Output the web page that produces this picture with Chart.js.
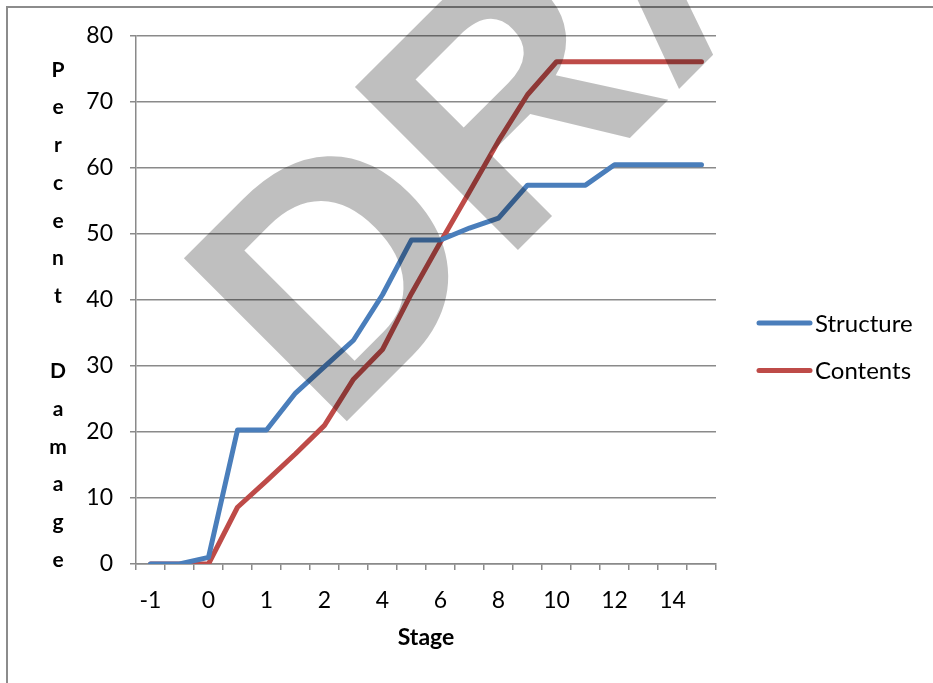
<!DOCTYPE html>
<html><head><meta charset="utf-8">
<script src="https://cdn.jsdelivr.net/npm/chart.js@4.4.1/dist/chart.umd.min.js"></script>
<style>
html,body{margin:0;padding:0;background:#fff;}
#wrap{position:relative;width:933px;height:683px;overflow:hidden;background:#fff;}
#frame{position:absolute;left:6px;top:6px;width:1000px;height:1000px;border:2px solid #8c8c8c;box-sizing:border-box;}
canvas{position:absolute;left:0;top:0;}
</style></head>
<body><div id="wrap"><div id="frame"></div><canvas id="c" width="933" height="683"></canvas></div>
<script>
const stages = ['-1','-0.5','0','0.5','1','1.5','2','3','4','5','6','7','8','9','10','11','12','13','14','15'];
const structure = [0, 0, 1, 20.3, 20.3, 25.9, 29.9, 33.9, 40.8, 49.1, 49.1, 50.9, 52.4, 57.4, 57.4, 57.4, 60.5, 60.5, 60.5, 60.5];
const contents  = [0, 0, 0, 8.6, 12.6, 16.7, 21.0, 28.0, 32.5, 41.0, 48.8, 56.4, 64.1, 71.1, 76.1, 76.1, 76.1, 76.1, 76.1, 76.1];
const yTicks = [0, 10, 20, 30, 40, 50, 60, 70, 80];
const seriesNames = ['Structure', 'Contents'];
const seriesColors = ['#4a7ebb', '#be4b48'];
const xTitle = 'Stage';
const yTitle = 'Percent Damage';
const watermarkText = 'DRAFT';

const GRID = '#8a8a8a';
const FONT = 'Lato, "Open Sans", sans-serif';

const watermark = {
  id: 'watermark',
  afterDatasetsDraw(chart) {
    const ctx = chart.ctx;
    ctx.save();
    ctx.translate(331, 437);
    ctx.rotate(-Math.PI / 4);
    ctx.font = 'bold 335px "Liberation Sans", Arial, sans-serif';
    ctx.fillStyle = 'rgba(0,0,0,0.25)';
    ctx.textBaseline = 'alphabetic';
    ctx.textAlign = 'left';
    ctx.fillText(watermarkText, 0, 0);
    ctx.restore();
  }
};

const sideTitleAndLegend = {
  id: 'sideTitleAndLegend',
  afterDraw(chart) {
    const ctx = chart.ctx;
    ctx.save();
    // stacked y-axis title
    ctx.font = 'bold 21px ' + FONT;
    ctx.fillStyle = '#000';
    ctx.textAlign = 'center';
    ctx.textBaseline = 'middle';
    const chars = Array.from(yTitle);
    chars.forEach((ch, i) => {
      if (ch !== ' ') ctx.fillText(ch, 58, 70 + i * 37.7);
    });
    // legend
    ctx.font = '24px ' + FONT;
    ctx.textAlign = 'left';
    chart.data.datasets.forEach((ds, i) => {
      const y = 323 + i * 47.5;
      ctx.strokeStyle = ds.borderColor;
      ctx.lineWidth = 5;
      ctx.lineCap = 'round';
      ctx.beginPath();
      ctx.moveTo(759, y);
      ctx.lineTo(810, y);
      ctx.stroke();
      ctx.fillStyle = '#000';
      ctx.fillText(ds.label, 815, y + 1);
    });
    ctx.restore();
  }
};

new Chart(document.getElementById('c'), {
  type: 'line',
  data: {
    labels: stages,
    datasets: [
      { label: seriesNames[0], data: structure, borderColor: seriesColors[0], backgroundColor: seriesColors[0] },
      { label: seriesNames[1], data: contents, borderColor: seriesColors[1], backgroundColor: seriesColors[1] }
    ]
  },
  options: {
    responsive: false,
    devicePixelRatio: 1,
    animation: false,
    layout: { padding: { left: 0, right: 217, top: 36, bottom: 0 } },
    elements: {
      line: { borderWidth: 5, tension: 0, borderCapStyle: 'round', borderJoinStyle: 'round' },
      point: { radius: 0, hoverRadius: 0 }
    },
    plugins: {
      legend: { display: false },
      tooltip: { enabled: false }
    },
    scales: {
      x: {
        offset: true,
        grid: { offset: true, drawOnChartArea: false, drawTicks: true, tickLength: 6, color: GRID, lineWidth: 1.5 },
        border: { display: true, color: GRID, width: 1.5 },
        ticks: {
          autoSkip: false, maxRotation: 0, minRotation: 0, padding: 17,
          color: '#000', font: { family: FONT, size: 23 },
          callback: (v, i) => (i % 2 === 0 ? stages[i] : '')
        },
        title: { display: true, text: xTitle, color: '#000', font: { family: FONT, size: 23, weight: 'bold' }, padding: { top: 0, bottom: 32 } },
        afterFit: (s) => { s.height = 119; }
      },
      y: {
        min: yTicks[0], max: yTicks[yTicks.length - 1],
        afterBuildTicks: (s) => { s.ticks = yTicks.map(v => ({ value: v })); },
        grid: { color: GRID, lineWidth: 1.5, drawTicks: true, tickLength: 6 },
        border: { display: true, color: GRID, width: 1.5 },
        ticks: { padding: 17, color: '#000', font: { family: FONT, size: 23 } },
        afterFit: (s) => { s.width = 136; }
      }
    }
  },
  plugins: [watermark, sideTitleAndLegend]
});
</script>
</body></html>
